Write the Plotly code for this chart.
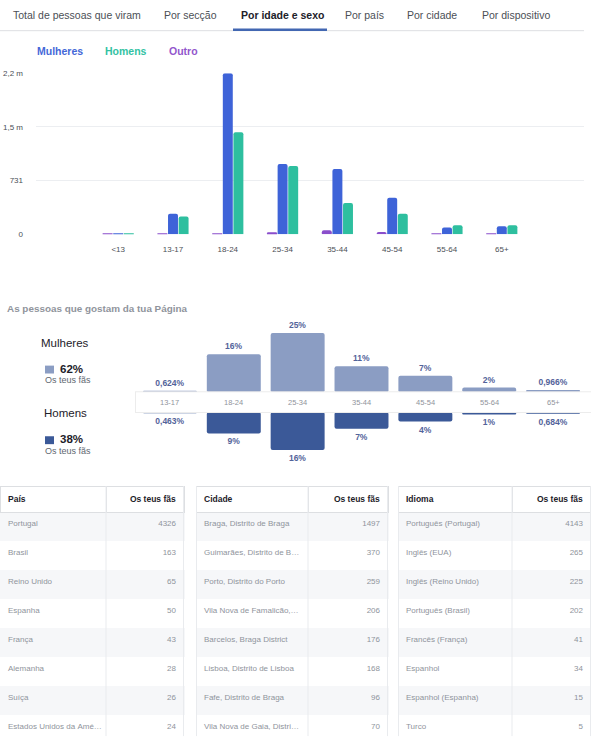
import plotly.graph_objects as go

W, H = 591, 750
FONT = "Liberation Sans, Arial, sans-serif"
NB = "\u00a0"

# ---------------- data ----------------
tabs = ["Total de pessoas que viram", "Por secção", "Por idade e sexo",
        "Por país", "Por cidade", "Por dispositivo"]
tab_x = [11, 162, 239, 343, 405, 480]
selected_tab = 2

ages_top = ["<13", "13-17", "18-24", "25-34", "35-44", "45-54", "55-64", "65+"]
outro = [8, 8, 8, 25, 54, 31, 6, 6]
mulheres = [10, 278, 2193, 955, 888, 498, 90, 108]
homens = [10, 242, 1390, 928, 426, 278, 121, 121]
y_ticks = [0, 731, 1462, 2193]
y_tick_labels = ["0", "731", "1,5 m", "2,2 m"]

ages_mid = ["13-17", "18-24", "25-34", "35-44", "45-54", "55-64", "65+"]
fas_mulheres = [0.624, 16, 25, 11, 7, 2, 0.966]
fas_homens = [0.463, 9, 16, 7, 4, 1, 0.684]
total_mulheres = "62%"
total_homens = "38%"

paises = ["Portugal", "Brasil", "Reino Unido", "Espanha", "França",
          "Alemanha", "Suíça", "Estados Unidos da Amé…"]
paises_fas = [4326, 163, 65, 50, 43, 28, 26, 24]
cidades = ["Braga, Distrito de Braga", "Guimarães, Distrito de B…",
           "Porto, Distrito do Porto", "Vila Nova de Famalicão,…",
           "Barcelos, Braga District", "Lisboa, Distrito de Lisboa",
           "Fafe, Distrito de Braga", "Vila Nova de Gaia, Distri…"]
cidades_fas = [1497, 370, 259, 206, 176, 168, 96, 70]
idiomas = ["Português (Portugal)", "Inglês (EUA)", "Inglês (Reino Unido)",
           "Português (Brasil)", "Francês (França)", "Espanhol",
           "Espanhol (Espanha)", "Turco"]
idiomas_fas = [4143, 265, 225, 202, 41, 34, 15, 5]


def px(x):
    return x / W


def py(y):
    return 1 - y / H


def pct(v):
    return (f"{v:.3f}".replace(".", ",") if v < 1 else f"{v:.0f}") + "%"


C_M, C_H, C_O = "#3e63d8", "#2ebf9f", "#8a4ecb"
C_LIGHT, C_DARK = "#8b9dc3", "#3b5998"

fig = go.Figure()

# ---------------- top grouped bar chart ----------------
xs = list(range(len(ages_top)))
for name, vals, col in [("Outro", outro, C_O), ("Mulheres", mulheres, C_M),
                        ("Homens", homens, C_H)]:
    fig.add_trace(go.Bar(x=xs, y=vals, name=name, marker=dict(color=col, line=dict(width=0)),
                         xaxis="x", yaxis="y", showlegend=False, hoverinfo="skip"))

# ---------------- middle butterfly chart ----------------
BAND = 4.17
xm = list(range(len(ages_mid)))
fig.add_trace(go.Bar(x=xm, y=fas_mulheres, base=BAND, width=0.845, offset=-0.4225,
                     marker=dict(color=C_LIGHT, line=dict(width=0)),
                     text=[pct(v) for v in fas_mulheres], textposition="outside",
                     textfont=dict(size=8.5, color="#53639a", family=FONT, weight=700),
                     cliponaxis=False, xaxis="x2", yaxis="y2", showlegend=False,
                     hoverinfo="skip"))
fig.add_trace(go.Bar(x=xm, y=[-v for v in fas_homens], base=-BAND, width=0.845, offset=-0.4225,
                     marker=dict(color=C_DARK, line=dict(width=0)),
                     text=[pct(v) for v in fas_homens], textposition="outside",
                     textfont=dict(size=8.5, color="#53639a", family=FONT, weight=700),
                     cliponaxis=False, xaxis="x2", yaxis="y2", showlegend=False,
                     hoverinfo="skip"))

# ---------------- tables ----------------
row_fill = ["#f6f7f9" if i % 2 == 0 else "#ffffff" for i in range(8)]
tables = [
    ("País", paises, paises_fas, 0, 184, [106, 78]),
    ("Cidade", cidades, cidades_fas, 196, 388, [112, 80]),
    ("Idioma", idiomas, idiomas_fas, 398, 591, [114, 79]),
]
T_TOP, HDR_H, ROW_H = 488, 21, 29
T_BOT = T_TOP + HDR_H + 8 * ROW_H
for title, names, vals, x0, x1, cw in tables:
    fig.add_trace(go.Table(
        domain=dict(x=[px(x0), px(x1)], y=[py(T_BOT), py(T_TOP)]),
        columnwidth=cw,
        header=dict(values=[f"<b>{title}</b>", f"<b>Os{NB}teus{NB}fãs</b>"],
                    align=["left", "right"], height=HDR_H,
                    fill=dict(color="white"),
                    line=dict(color="#dddfe2", width=1),
                    font=dict(family=FONT, size=8.5, color="#1d2129")),
        cells=dict(values=[[n.replace(" ", NB) for n in names], vals],
                   align=["left", "right"], height=ROW_H,
                   fill=dict(color=[row_fill, row_fill]),
                   line=dict(color=[row_fill, row_fill], width=1),
                   font=dict(family=FONT, size=8, color="#8f949c")),
    ))

shapes = []
ann = []

# tabs
for i, (t, x) in enumerate(zip(tabs, tab_x)):
    sel = i == selected_tab
    ann.append(dict(x=px(x), y=py(11), xref="paper", yref="paper", xanchor="left",
                    yanchor="middle", showarrow=False,
                    text=f"<b>{t}</b>" if sel else t,
                    font=dict(family=FONT, size=10.5, color="#1d2129" if sel else "#4b4f56")))
shapes.append(dict(type="line", xref="paper", yref="paper", x0=0, x1=px(584),
                   y0=py(27), y1=py(27), line=dict(color="#dddfe2", width=1)))
shapes.append(dict(type="line", xref="paper", yref="paper", x0=px(233), x1=px(327),
                   y0=py(26), y1=py(26), line=dict(color="#4267b2", width=2.5)))

# top legend
for name, x, col in [("Mulheres", 35, "#4468d8"), ("Homens", 103, "#33c2a3"),
                     ("Outro", 167, "#9256cc")]:
    ann.append(dict(x=px(x), y=py(48), xref="paper", yref="paper", xanchor="left",
                    yanchor="middle", showarrow=False, text=f"<b>{name}</b>",
                    font=dict(family=FONT, size=10.5, color=col)))

# middle section texts
ann.append(dict(x=px(5), y=py(308), xref="paper", yref="paper", xanchor="left",
                yanchor="middle", showarrow=False,
                text="<b>As pessoas que gostam da tua Página</b>",
                font=dict(family=FONT, size=9.9, color="#90949c")))
for label, total, col, ylab, ysq in [("Mulheres", total_mulheres, C_LIGHT, 343, 370),
                                     ("Homens", total_homens, C_DARK, 414, 441.5)]:
    ann.append(dict(x=px(39 if label == "Mulheres" else 42), y=py(ylab), xref="paper",
                    yref="paper", xanchor="left", yanchor="middle", showarrow=False,
                    text=label, font=dict(family=FONT, size=11.5, color="#1d2129")))
    shapes.append(dict(type="rect", xref="paper", yref="paper", x0=px(45), x1=px(54),
                       y0=py(ysq + 4), y1=py(ysq - 4), fillcolor=col, line=dict(width=0)))
    ann.append(dict(x=px(58), y=py(ysq - 1), xref="paper", yref="paper", xanchor="left",
                    yanchor="middle", showarrow=False, text=f"<b>{total}</b>",
                    font=dict(family=FONT, size=11.5, color="#1d2129")))
    ann.append(dict(x=px(43), y=py(ysq + 11), xref="paper", yref="paper", xanchor="left",
                    yanchor="middle", showarrow=False, text="Os teus fãs",
                    font=dict(family=FONT, size=9, color="#606770")))

# centre band
shapes.append(dict(type="rect", xref="paper", yref="paper", x0=px(135), x1=1,
                   y0=py(414), y1=py(392), fillcolor="#ececec", line=dict(width=0),
                   layer="above"))
shapes.append(dict(type="rect", xref="paper", yref="paper", x0=px(136), x1=1,
                   y0=py(413), y1=py(393), fillcolor="#ffffff", line=dict(width=0),
                   layer="above"))
for i, a in enumerate(ages_mid):
    ann.append(dict(x=i, y=0, xref="x2", yref="y2", xanchor="center", yanchor="middle",
                    showarrow=False, text=a,
                    font=dict(family=FONT, size=7.5, color="#90949c")))

# table vertical rules
for title, names, vals, x0, x1, cw in tables:
    xs_ = [x0 + 0.5, x0 + (x1 - x0) * cw[0] / sum(cw), x1 - 0.5]
    if x0 == 0:
        xs_ = xs_[1:]
    for xv in xs_:
        shapes.append(dict(type="line", xref="paper", yref="paper", x0=px(xv), x1=px(xv),
                           y0=py(T_TOP), y1=py(T_BOT), line=dict(color="#e9ebee", width=1),
                           layer="above"))

fig.update_layout(
    width=W, height=H, margin=dict(l=0, r=0, t=0, b=0),
    paper_bgcolor="white", plot_bgcolor="white",
    font=dict(family=FONT),
    barmode="group", bargap=0.42, bargroupgap=0.06, barcornerradius=2,
    showlegend=False,
    xaxis=dict(domain=[px(36), px(584)], range=[-1.5, 8.5], tickvals=xs, ticktext=ages_top,
               showgrid=False, zeroline=False, showline=False, ticks="",
               ticklabelstandoff=9, tickfont=dict(size=8, color="#4b4f56"),
               fixedrange=True),
    yaxis=dict(domain=[py(233), py(70)], range=[0, 2193], tickvals=y_ticks,
               ticktext=y_tick_labels, showgrid=True, gridcolor="#eceef1", gridwidth=1,
               zeroline=False, showline=False, ticks="", ticklabelstandoff=12,
               tickfont=dict(size=8, color="#4b4f56"), fixedrange=True),
    xaxis2=dict(domain=[px(138), px(585)], range=[-0.5, 6.5], visible=False,
                anchor="y2", fixedrange=True),
    yaxis2=dict(domain=[py(468), py(318)], range=[-27.08, 35.42], visible=False,
                anchor="x2", fixedrange=True),
    shapes=shapes, annotations=ann,
)

fig.write_html("out.html", config={"displayModeBar": False},
               post_script="document.body.style.margin='0px';"
                           "document.body.style.overflow='hidden';")
